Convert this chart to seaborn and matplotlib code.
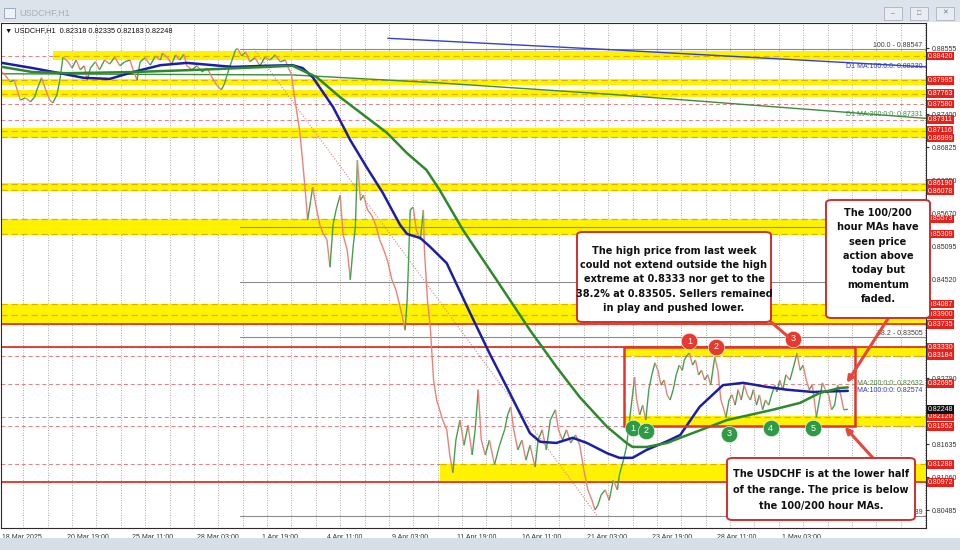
import numpy as np
import pandas as pd
import matplotlib.pyplot as plt
import seaborn as sns
from matplotlib.collections import LineCollection
from matplotlib.patches import Rectangle, FancyBboxPatch

W, H = 960, 550

# ---- USDCHF H1 closes (bar 0 = 18 Mar 2025 00:00) ----
price_bars = [0, 3, 8, 12, 18, 23, 28, 32, 35, 39,
              43, 47, 50, 54, 57, 60, 65, 69, 73, 77,
              81, 84, 87, 92, 96, 101, 106, 111, 116, 121,
              126, 129, 133, 136, 141, 146, 151, 156, 158, 163,
              167, 171, 175, 179, 182, 187, 192, 197, 202, 207,
              212, 216, 219, 222, 226, 230, 232, 236, 240, 244,
              249, 254, 259, 264, 269, 274, 279, 282, 285, 287,
              290, 293, 296, 299, 301, 304, 306, 309, 313, 316,
              320, 323, 326, 329, 333, 336, 340, 343, 346, 348,
              350, 353, 356, 360, 364, 368, 372, 376, 380, 384,
              388, 392, 395, 397, 399, 400, 402, 405, 408, 412,
              415, 416, 419, 422, 425, 428, 431, 434, 438, 441,
              444, 447, 451, 455, 459, 463, 466, 469, 472, 476,
              480, 485, 490, 495, 498, 501, 504, 508, 512, 516,
              520, 525, 528, 532, 536, 540, 545, 548, 552, 556,
              560, 565, 569, 573, 577, 581, 584, 587, 590, 594,
              598, 602, 606, 608, 612, 615, 618, 621, 623, 625,
              628, 631, 634, 637, 640, 643, 646, 649, 652, 655,
              658, 661, 664, 667, 670, 672, 675, 677, 680, 683,
              686, 689, 692, 695, 698, 700, 702, 705, 708, 711,
              713, 716, 719, 722, 725, 728, 731, 734, 737, 740,
              743, 746, 749, 752, 755, 758, 761, 763, 766, 769,
              772, 776, 780, 783, 786, 789, 792, 795, 798, 800,
              802, 805, 808, 811, 814, 817, 820, 823, 826, 829, 833]
price_close = [0.8814, 0.8809, 0.8797, 0.8800, 0.8765, 0.8769, 0.8762, 0.8770, 0.8786, 0.8804,
               0.8783, 0.8765, 0.8760, 0.8774, 0.8800, 0.8840, 0.8832, 0.8821, 0.8835, 0.8818,
               0.8825, 0.8800, 0.8821, 0.8832, 0.8818, 0.8835, 0.8828, 0.8840, 0.8825, 0.8832,
               0.8835, 0.8818, 0.8800, 0.8832, 0.8839, 0.8826, 0.8842, 0.8835, 0.8847, 0.8839,
               0.8828, 0.8844, 0.8835, 0.8845, 0.8825, 0.8818, 0.8825, 0.8814, 0.8821, 0.8804,
               0.8790, 0.8783, 0.8793, 0.8811, 0.8832, 0.8853, 0.8855, 0.8842, 0.8849, 0.8832,
               0.8839, 0.8825, 0.8840, 0.8835, 0.8844, 0.8832, 0.8835, 0.8821, 0.8811, 0.8783,
               0.8748, 0.8713, 0.8660, 0.8599, 0.8556, 0.8590, 0.8613, 0.8582, 0.8547, 0.8533,
               0.8521, 0.8473, 0.8547, 0.8573, 0.8599, 0.8529, 0.8503, 0.8451, 0.8512, 0.8543,
               0.8660, 0.8590, 0.8599, 0.8573, 0.8564, 0.8547, 0.8521, 0.8503, 0.8482, 0.8451,
               0.8433, 0.8404, 0.8381, 0.8363, 0.8416, 0.8463, 0.8573, 0.8578, 0.8538, 0.8521,
               0.8573, 0.8503, 0.8416, 0.8363, 0.8276, 0.8241, 0.8224, 0.8206, 0.8189, 0.8145,
               0.8114, 0.8171, 0.8206, 0.8162, 0.8197, 0.8145, 0.8189, 0.8259, 0.8171, 0.8145,
               0.8171, 0.8128, 0.8162, 0.8189, 0.8215, 0.8229, 0.8189, 0.8154, 0.8171, 0.8136,
               0.8162, 0.8124, 0.8171, 0.8189, 0.8154, 0.8206, 0.8224, 0.8189, 0.8171, 0.8189,
               0.8166, 0.8180, 0.8162, 0.8119, 0.8084, 0.8066, 0.8049, 0.8058, 0.8075, 0.8084,
               0.8066, 0.8101, 0.8084, 0.8110, 0.8136, 0.8159, 0.8206, 0.8250, 0.8281, 0.8241,
               0.8215, 0.8232, 0.8206, 0.8259, 0.8285, 0.8306, 0.8293, 0.8267, 0.8276, 0.8250,
               0.8241, 0.8259, 0.8285, 0.8302, 0.8293, 0.8311, 0.8320, 0.8323, 0.8302, 0.8311,
               0.8285, 0.8293, 0.8276, 0.8285, 0.8267, 0.8293, 0.8316, 0.8293, 0.8241, 0.8224,
               0.8211, 0.8241, 0.8250, 0.8232, 0.8259, 0.8241, 0.8267, 0.8250, 0.8241, 0.8259,
               0.8232, 0.8250, 0.8224, 0.8241, 0.8232, 0.8250, 0.8267, 0.8255, 0.8276, 0.8259,
               0.8285, 0.8276, 0.8302, 0.8323, 0.8293, 0.8302, 0.8276, 0.8259, 0.8267, 0.8241,
               0.8211, 0.8241, 0.8271, 0.8259, 0.8250, 0.8224, 0.8232, 0.8267, 0.8250, 0.8224, 0.82248]

# 100 / 200 hour moving averages
ma100_bars = [0, 30, 57, 80, 106, 129, 156, 182, 208, 227, 261, 286, 296, 306, 326,
              343, 359, 375, 392, 399, 412, 422, 438, 461, 480, 497, 510, 520, 530, 546,
              562, 576, 596, 608, 621, 635, 655, 668, 687, 710, 730, 753, 773, 799, 833]
ma100 = [0.8830, 0.8821, 0.8812, 0.8804, 0.8802, 0.8814, 0.8826, 0.8830, 0.8826, 0.8823,
         0.8825, 0.8826, 0.8821, 0.8805, 0.8753, 0.8695, 0.8648, 0.8603, 0.8547, 0.8531,
         0.8524, 0.8508, 0.8480, 0.8393, 0.8323, 0.8264, 0.8218, 0.8183, 0.8168, 0.8166,
         0.8175, 0.8166, 0.8148, 0.8140, 0.8140, 0.8154, 0.8169, 0.8180, 0.8229, 0.8267,
         0.8271, 0.8264, 0.8259, 0.8255, 0.8257]
ma200_bars = [0, 30, 64, 129, 195, 261, 286, 310, 333, 359, 379, 399, 418, 431, 454,
              487, 520, 546, 569, 596, 615, 621, 635, 655, 668, 714, 759, 786, 805, 825, 833]
ma200 = [0.8823, 0.8814, 0.8812, 0.8814, 0.8818, 0.8823, 0.8825, 0.8805, 0.8770, 0.8735,
         0.8708, 0.8672, 0.8643, 0.8608, 0.8538, 0.8451, 0.8363, 0.8299, 0.8246, 0.8194,
         0.8166, 0.8159, 0.8159, 0.8166, 0.8175, 0.8206, 0.8224, 0.8236, 0.8253, 0.8262, 0.8263]

# daily moving averages shown on the hourly chart
d1_ma100_bars = [380, 600, 910]
d1_ma100 = [0.8873, 0.8853, 0.8823]
d1_ma200_bars = [0, 286, 431, 600, 910]
d1_ma200 = [0.8811, 0.8809, 0.8795, 0.8775, 0.87331]

xtick_bars = [0, 64, 128, 192, 256, 320, 384, 448, 512, 576, 640, 704, 768]
xtick_labels = ['18 Mar 2025', '20 Mar 19:00', '25 Mar 11:00', '28 Mar 03:00', '1 Apr 19:00',
                '4 Apr 11:00', '9 Apr 03:00', '11 Apr 19:00', '16 Apr 11:00', '21 Apr 03:00',
                '23 Apr 19:00', '28 Apr 11:00', '1 May 03:00']
# price scale labels that are not hidden behind a price tag
ytick_levels = [0.88555, 0.87400, 0.86825, 0.86250, 0.85670, 0.85095, 0.84520,
                0.82790, 0.81635, 0.81060, 0.80485]

# support / resistance levels (red price tags)
key_levels = [0.88420, 0.87995, 0.87763, 0.87580, 0.87311, 0.87116, 0.86999, 0.86190,
              0.86078, 0.85573, 0.85309, 0.84087, 0.83900, 0.83735, 0.83330, 0.83184,
              0.82695, 0.82120, 0.81952, 0.81288, 0.80972]
solid_levels = [0.83735, 0.83330, 0.80972]
zone_low = [0.88350, 0.87920, 0.87700, 0.86990, 0.86070, 0.85300, 0.83730, 0.83180, 0.81950, 0.80972]
zone_high = [0.88500, 0.88020, 0.87820, 0.87160, 0.86200, 0.85580, 0.84090, 0.83335, 0.82125, 0.81290]
zone_start = [50, -1, -1, -1, -1, -1, -1, 613, 613, 431]
last_price = 0.82248

# fibonacci retracement of the 28 Mar high -> 21 Apr low
fib_pct = [100.0, 61.8, 50.0, 38.2, 0.0]
fib_price = [0.88547, 0.85431, 0.84468, 0.83505, 0.80389]
fib_bars = [248, 586]

# trading range and the touches inside it
range_bars = [613, 840]
range_prices = [0.81952, 0.83330]
top_touch_bars = [677, 703, 779]
top_touch_prices = [0.8344, 0.8334, 0.8348]
low_touch_bars = [621, 634, 716, 757, 799]
low_touch_prices = [0.8192, 0.8187, 0.8182, 0.8192, 0.8192]

RED = '#e0352b'
YELLOW = '#fff200'


def px(x, y):
    """screen pixel measured from the top-left corner -> figure fraction"""
    return x / W, 1 - y / H


def draw_frame(fig):
    # window title bar and bottom status strip
    fig.add_artist(Rectangle((0, 1 - 22 / H), 1, 22 / H, transform=fig.transFigure,
                             fc='#dce3eb', ec='none', zorder=0))
    fig.add_artist(Rectangle(px(4, 18), 11 / W, 10 / H, transform=fig.transFigure,
                             fc='#eef3f8', ec='#8da2bb', lw=0.6))
    fig.text(*px(19, 13), 'USDCHF,H1', fontsize=6.5, color='#a7afba', va='center')
    for bx, glyph in zip([884, 910, 936], ['\u2013', '\u25a1', '\u2715']):
        fig.add_artist(Rectangle(px(bx, 20), 18 / W, 13 / H, transform=fig.transFigure,
                                 fc='#e9edf2', ec='#a8b2bf', lw=0.6))
        fig.text(*px(bx + 9, 13.5), glyph, fontsize=5, color='#6f7b88', ha='center', va='center')
    fig.add_artist(Rectangle((0, 0), 1, 12 / H, transform=fig.transFigure,
                             fc='#d8dee6', ec='none'))
    fig.text(*px(5, 31), '\u25bc USDCHF,H1  0.82318 0.82335 0.82183 0.82248',
             fontsize=5.3, color='#111111', va='center')


def draw_levels(ax):
    x_end = 910
    for lvl in key_levels:
        ax.axhline(lvl, color='#e58080', lw=0.7, ls=(0, (4, 3)), zorder=1)
    for lo, hi, start in zip(zone_low, zone_high, zone_start):
        ax.fill_between([start, x_end], lo, hi, color=YELLOW, lw=0, zorder=1.5)
        for lvl in key_levels:
            if lo - 1e-6 <= lvl <= hi + 1e-6:
                ax.plot([start, x_end], [lvl, lvl], color='#e0b000', lw=0.9,
                        ls=(0, (5, 3)), zorder=1.6)
    for lvl in solid_levels:
        ax.axhline(lvl, color=RED, lw=1.3, zorder=2)
    # fibonacci levels and the diagonal they were drawn on
    for pct, p in zip(fib_pct, fib_price):
        ax.plot([fib_bars[0] - 14, x_end], [p, p], color='#8c8c8c', lw=0.8, zorder=1.7)
    for pct, p in zip([100.0, 38.2, 0.0], [fib_price[0], fib_price[3], fib_price[4]]):
        ax.text(0.996, p, f'{pct:.1f} - {p:.5f}', transform=ax.get_yaxis_transform(),
                ha='right', va='bottom', fontsize=5, color='#404040', zorder=2)
    ax.plot(fib_bars, [fib_price[0], fib_price[4]], color='#d88080', lw=0.8,
            ls=(0, (1, 1.5)), zorder=1.8)


def draw_price(ax):
    x = np.asarray(price_bars, float)
    y = np.asarray(price_close, float)
    segs = np.stack([np.column_stack([x[:-1], y[:-1]]), np.column_stack([x[1:], y[1:]])], axis=1)
    colors = np.where(np.diff(y) >= 0, '#44a04c', '#ea8277')
    ax.add_collection(LineCollection(segs, colors=colors, lw=1.0, zorder=3))

    ma = pd.DataFrame({'bar': ma100_bars, 'value': ma100})
    sns.lineplot(data=ma, x='bar', y='value', ax=ax, color='#1b1fa8', lw=1.8, zorder=4)
    ma = pd.DataFrame({'bar': ma200_bars, 'value': ma200})
    sns.lineplot(data=ma, x='bar', y='value', ax=ax, color='#2c8a2c', lw=1.8, zorder=4)
    sns.lineplot(x=d1_ma100_bars, y=d1_ma100, ax=ax, color='#3341c4', lw=1.0, zorder=2.5)
    sns.lineplot(x=d1_ma200_bars, y=d1_ma200, ax=ax, color='#3c8c3c', lw=1.0, zorder=2.5)

    tr = ax.get_yaxis_transform()
    ax.text(0.996, d1_ma100[-1], f'D1 MA:100:0:0: {d1_ma100[-1]:.5f}', transform=tr,
            ha='right', va='center', fontsize=5, color='#2d3cc0', zorder=3)
    ax.text(0.996, d1_ma200[-1], f'D1 MA:200:0:0: {d1_ma200[-1]:.5f}', transform=tr,
            ha='right', va='bottom', fontsize=5, color='#3c8c3c', zorder=3)
    ax.text(0.996, 0.82632, 'MA:200:0:0: 0.82632', transform=tr,
            ha='right', va='bottom', fontsize=5, color='#3c8c3c', zorder=3)
    ax.text(0.996, 0.82574, 'MA:100:0:0: 0.82574', transform=tr,
            ha='right', va='center', fontsize=5, color='#2d3cc0', zorder=3)


def draw_range(ax):
    ax.add_patch(Rectangle((range_bars[0], range_prices[0]), range_bars[1] - range_bars[0],
                           range_prices[1] - range_prices[0], fill=False, ec=RED, lw=1.8, zorder=6))
    ax.scatter(top_touch_bars, top_touch_prices, s=140, color='#e53a30', ec='white', lw=0.4, zorder=8)
    ax.scatter(low_touch_bars, low_touch_prices, s=140, color='#2e9a45', ec='white', lw=0.4, zorder=8)
    for i, (b, p) in enumerate(zip(top_touch_bars, top_touch_prices)):
        ax.text(b, p, str(i + 1), color='white', fontsize=6.5, ha='center', va='center', zorder=9)
    for i, (b, p) in enumerate(zip(low_touch_bars, low_touch_prices)):
        ax.text(b, p, str(i + 1), color='white', fontsize=6.5, ha='center', va='center', zorder=9)


def draw_price_tags(ax):
    tr = ax.get_yaxis_transform()
    tags = sorted([(lvl, '#e8201a') for lvl in key_levels] + [(last_price, '#111111')],
                  reverse=True)
    # stack the tags so they do not sit on top of each other
    gap = 0.0013
    pos = None
    for lvl, fc in tags:
        pos = lvl if pos is None or pos - lvl >= gap else pos - gap
        ax.text(1.002, pos, f'{lvl:.5f}', transform=tr, ha='left', va='center', fontsize=5,
                color='white', clip_on=False, zorder=11 if fc == '#111111' else 10,
                bbox=dict(boxstyle='square,pad=0.12', fc=fc, ec='none'))


def draw_notes(fig, ax):
    notes = [
        (577, 232, 771, 322, 279.5, 1.56, 'The high price from last week\ncould not extend outside the high\n'
                                          'extreme at 0.8333 nor get to the\n38.2% at 0.83505. Sellers remained\n'
                                          'in play and pushed lower.'),
        (826, 200, 930, 318, 256, 1.56, 'The 100/200\nhour MAs have\nseen price\naction above\ntoday but\n'
                                        'momentum\nfaded.'),
        (727, 458, 915, 520, 490, 1.8, 'The USDCHF is at the lower half\nof the range. The price is below\n'
                                       'the 100/200 hour MAs.'),
    ]
    for x0, y0, x1, y1, yc, ls, txt in notes:
        fig.add_artist(FancyBboxPatch(px(x0, y1), (x1 - x0) / W, (y1 - y0) / H,
                                      boxstyle='round,pad=0,rounding_size=0.006',
                                      transform=fig.transFigure, fc='white', ec='#cf2f2f',
                                      lw=1.4, zorder=20))
        fig.text(*px((x0 + x1) / 2, yc), txt, ha='center', va='center',
                 fontsize=7.0, fontweight='bold', family='DejaVu Sans', linespacing=ls,
                 color='#111111', zorder=21)

    arrow = dict(arrowstyle='-|>', color='#e8463a', lw=2.2, mutation_scale=9, shrinkA=0, shrinkB=0)
    ax.annotate('', xy=(832, 0.8271), xycoords='data', xytext=px(889, 317),
                textcoords='figure fraction', arrowprops=arrow, annotation_clip=False, zorder=12)
    ax.annotate('', xy=(830, 0.8194), xycoords='data', xytext=px(873, 458),
                textcoords='figure fraction', arrowprops=arrow, annotation_clip=False, zorder=12)
    line = dict(arrowstyle='-', color='#e8463a', lw=2.2, shrinkA=0, shrinkB=0)
    ax.annotate('', xy=(774, 0.8352), xycoords='data', xytext=px(771, 322),
                textcoords='figure fraction', arrowprops=line, annotation_clip=False, zorder=12)


def plot_usdchf(save_path='out.png'):
    sns.set_style('white')
    plt.rcParams['font.family'] = ['Liberation Sans', 'DejaVu Sans']

    fig = plt.figure(figsize=(W / 100, H / 100), dpi=100)
    fig.patch.set_facecolor('white')
    ax = fig.add_axes([1 / W, 1 - 528 / H, 925 / W, 505 / H])

    draw_levels(ax)
    draw_price(ax)
    draw_range(ax)
    draw_price_tags(ax)

    ax.set_xlim(-1, 910)
    ax.set_ylim(0.80174, 0.88997)
    ax.set_xlabel('')
    ax.set_ylabel('')
    ax.yaxis.tick_right()
    ax.set_yticks(ytick_levels)
    ax.set_yticklabels([f'{v:.5f}' for v in ytick_levels])
    ax.set_xticks(xtick_bars)
    ax.set_xticklabels(xtick_labels, ha='left')
    ax.set_xticks(np.arange(21, 910, 24), minor=True)
    ax.tick_params(axis='y', labelsize=5, length=2, pad=2, colors='#333333')
    ax.tick_params(axis='x', labelsize=5, length=3, pad=1.5, colors='#333333')
    ax.tick_params(axis='x', which='minor', length=0)
    ax.grid(False)
    ax.grid(True, which='minor', axis='x', color='#8f8f8f', lw=0.6, ls=(0, (1, 2)))
    for s in ax.spines.values():
        s.set_color('#2a2a2a')
        s.set_linewidth(0.8)

    draw_frame(fig)
    draw_notes(fig, ax)

    fig.savefig(save_path, dpi=100)
    plt.close(fig)
    print(f"saved {save_path}")


if __name__ == "__main__":
    plot_usdchf()
